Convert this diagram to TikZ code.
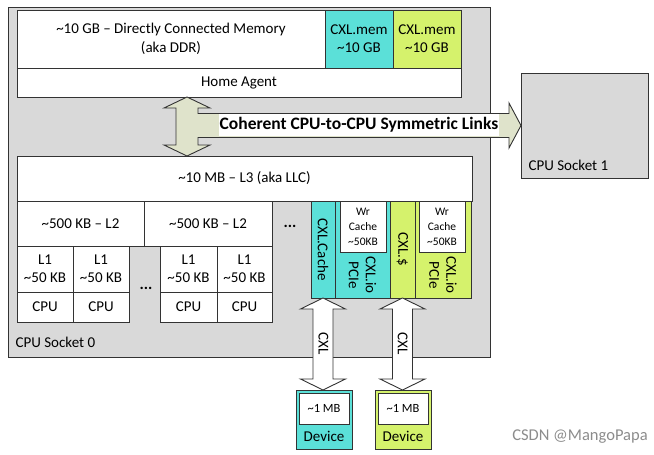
\documentclass[tikz,border=0pt]{standalone}
\usepackage{fontspec}
\setmainfont{Carlito}
\usetikzlibrary{positioning,calc}

\definecolor{cxlcyan}{HTML}{5BE0D8}
\definecolor{cxlgreen}{HTML}{D5F26C}
\definecolor{socketgray}{HTML}{D9D9D9}
\definecolor{linksage}{HTML}{DFE3CB}
\definecolor{boxline}{HTML}{333333}

\tikzset{
    box/.style={draw=boxline, fill=white, line width=0.9pt, inner sep=0pt,
        outer sep=0pt, anchor=north west, align=center},
    cyanbox/.style={box, fill=cxlcyan},
    greenbox/.style={box, fill=cxlgreen},
    socket/.style={box, fill=socketgray},
    blockarrow/.style={draw=boxline, line width=0.9pt, line join=miter},
    smalltext/.style={font=\fontsize{11.5}{15}\selectfont},
    dots/.style={font=\fontsize{16}{16}\selectfont\bfseries},
}

% block arrow between a CXL port and its device
\newcommand{\cxllink}[3]{%
  \draw[blockarrow, fill=white] let \p1=(#1.south), \p2=(#2.north) in
    (\x1,\y1) -- (\x1+22.5pt,\y1-11pt) -- (\x1+10pt,\y1-11pt)
    -- (\x1+10pt,\y2+11pt) -- (\x1+22.5pt,\y2+11pt) -- (\x1,\y2)
    -- (\x1-22.5pt,\y2+11pt) -- (\x1-10pt,\y2+11pt)
    -- (\x1-10pt,\y1-11pt) -- (\x1-22.5pt,\y1-11pt) -- cycle;
  \node[rotate=-90] at ($(#1.south)!0.5!(#2.north)$) {#3};
}

\begin{document}
\begin{tikzpicture}[
    x=1pt, y=-1pt,
    font=\fontsize{15}{18}\selectfont,
  ]

  \useasboundingbox (0,0) rectangle (654,455);

  % -------------
  % CPU Socket 0
  % -------------
  \node[socket, minimum width=482, minimum height=350] (sock0) at (8,7) {};
  \node[anchor=west] (sock0label) at (12,342) {CPU Socket 0};

  % memory and home agent
  \node[box, minimum width=308, minimum height=58, font=\fontsize{15}{19}\selectfont] (mem) at (17,10)
    {\textasciitilde10 GB -- Directly Connected Memory\\(aka DDR)};
  \node[cyanbox, minimum width=68, minimum height=58] (cxlmem0) at (325,10)
    {CXL.mem\\\textasciitilde10 GB};
  \node[greenbox, minimum width=68, minimum height=58] (cxlmem1) at (393,10)
    {CXL.mem\\\textasciitilde10 GB};
  \node[box, minimum width=444, minimum height=29] (home) at (17,68) {Home Agent};

  % caches
  \node[box, minimum width=455, minimum height=45] (l3) at (17,156)
    {\textasciitilde10 MB -- L3 (aka LLC)};
  \node[box, minimum width=127, minimum height=45] (l2a) at (17,201)
    {\textasciitilde500 KB -- L2};
  \node[box, minimum width=128, minimum height=45] (l2b) at (144,201)
    {\textasciitilde500 KB -- L2};

  \foreach \x/\w/\name in {17/56/a, 73/56/b, 160/57/c, 217/55/d} {
    \node[box, minimum width=\w, minimum height=46] (l1\name) at (\x,246)
      {L1\\\textasciitilde50 KB};
    \node[box, minimum width=\w, minimum height=30] (cpu\name) at (\x,292) {CPU};
  }

  \node[dots] (dotscpu) at (146,288) {...};
  \node[dots] (dotsl2) at (290,226) {...};

  % CXL ports
  \node[cyanbox, minimum width=24, minimum height=97] (cxlcache) at (311,201) {};
  \node[rotate=-90] (cxlcachelabel) at (cxlcache.center) {CXL.Cache};
  \node[cyanbox, minimum width=55, minimum height=97] (cxlio0) at (335,201) {};
  \node[box, minimum width=46, minimum height=51, smalltext] (wrcache0) at (340,201)
    {Wr\\Cache\\\textasciitilde50KB};
  \node[rotate=-90, align=center, font=\fontsize{15}{17}\selectfont] (cxlio0label) at (362.5,275) {CXL.io\\PCIe};

  \node[greenbox, minimum width=25, minimum height=97] (cxldollar) at (390,201) {};
  \node[rotate=-90] (cxldollarlabel) at (cxldollar.center) {CXL.\$};
  \node[greenbox, minimum width=56, minimum height=97] (cxlio1) at (415,201) {};
  \node[box, minimum width=46, minimum height=51, smalltext] (wrcache1) at (419,201)
    {Wr\\Cache\\\textasciitilde50KB};
  \node[rotate=-90, align=center, font=\fontsize{15}{17}\selectfont] (cxlio1label) at (443,275) {CXL.io\\PCIe};

  % -------------
  % CPU Socket 1
  % -------------
  \node[socket, minimum width=127, minimum height=105] (sock1) at (521,73) {};
  \node[anchor=west] (sock1label) at (525,165) {CPU Socket 1};

  % coherent link
  \coordinate (vlink) at (187,125);
  \draw[blockarrow, fill=linksage] let \p1=(vlink |- home.south), \p2=(vlink |- l3.north), \p3=(sock1.west) in
    (\x1,\y1) -- (\x1+23pt,\y1-11pt) -- (\x1+11pt,\y1-11pt)
    -- (\x1+11pt,\y3+12pt) -- (\x3-12pt,\y3+12pt) -- (\x3-12pt,\y3+22.5pt) -- (\x3,\y3)
    -- (\x3-12pt,\y3-22.5pt) -- (\x3-12pt,\y3-12pt) -- (\x1+11pt,\y3-12pt)
    -- (\x1+11pt,\y2+11pt) -- (\x1+23pt,\y2+11pt) -- (\x2,\y2)
    -- (\x1-23pt,\y2+11pt) -- (\x1-11pt,\y2+11pt)
    -- (\x1-11pt,\y1-11pt) -- (\x1-23pt,\y1-11pt) -- cycle;
  \node[fill=white, inner sep=1pt, minimum height=22, font=\fontsize{17.5}{17.5}\selectfont\bfseries]
    (linklabel) at (359,125) {Coherent CPU-to-CPU Symmetric Links};

  % --------
  % Devices
  % --------
  \node[cyanbox, minimum width=56, minimum height=59] (dev0) at (296,390) {};
  \node[box, minimum width=50, minimum height=31, font=\fontsize{12.5}{14}\selectfont] (dev0mem) at (299,393) {\textasciitilde1 MB};
  \node (dev0label) at (324,436) {Device};

  \node[greenbox, minimum width=56, minimum height=59] (dev1) at (375,390) {};
  \node[box, minimum width=50, minimum height=31, font=\fontsize{12.5}{14}\selectfont] (dev1mem) at (378,393) {\textasciitilde1 MB};
  \node (dev1label) at (403,436) {Device};

  \cxllink{cxlcache}{dev0}{CXL}
  \cxllink{cxldollar}{dev1}{CXL}

  % watermark
  \node[text=black!45, font=\fontsize{16.5}{18}\selectfont] (mark) at (580,437) {CSDN @MangoPapa};

\end{tikzpicture}
\end{document}
